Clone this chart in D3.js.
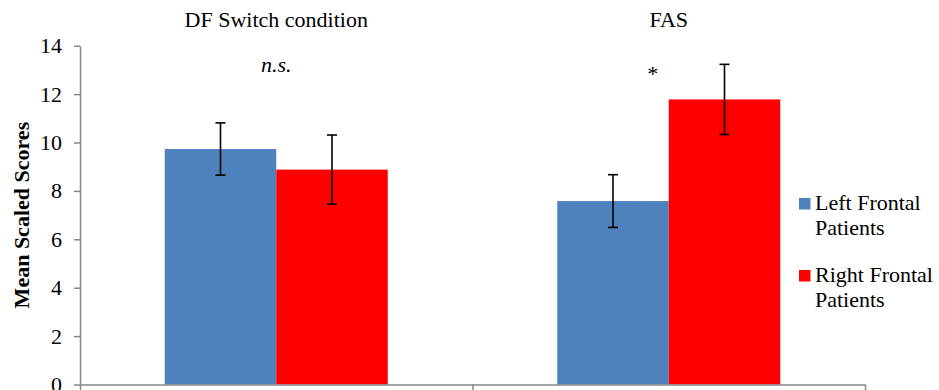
<!DOCTYPE html>
<html>
<head>
<meta charset="utf-8">
<script src="https://cdn.jsdelivr.net/npm/d3@7"></script>
<style>
  body { margin: 0; background: #fff; }
  svg { display: block; }
  svg text { font-family: "Liberation Serif", "Times New Roman", serif; }
</style>
</head>
<body>
<svg id="chart"></svg>
<script>
const svgWidth = 939;
const svgHeight = 390;

// chart values
const categories = ["DF Switch condition", "FAS"];
const seriesNames = ["Left Frontal Patients", "Right Frontal Patients"];
const leftMeans = [9.73, 7.58];
const rightMeans = [8.88, 11.78];
const leftErrors = [1.08, 1.09];
const rightErrors = [1.43, 1.45];
const sigLabels = ["n.s.", "*"];
const yTicks = [0, 2, 4, 6, 8, 10, 12, 14];
const colors = ["#4F81BD", "#FF0000"];

const plot = { left: 80, right: 865, top: 45.7, bottom: 384.5 };
const fontSize = 22;

let svg = d3.select("#chart")
  .attr("width", svgWidth)
  .attr("height", svgHeight);

let y = d3.scaleLinear().domain([0, 14]).range([plot.bottom, plot.top]);
let x0 = d3.scaleBand().domain(categories).range([plot.left, plot.right]);
let x1 = d3.scaleBand().domain(seriesNames).range([0, x0.bandwidth()]).paddingOuter(0.76);
let xEdge = d3.scaleLinear().domain([0, categories.length]).range([plot.left, plot.right]);

// rows: one per category / series
let rows = [];
categories.forEach((c, i) => {
  rows.push({ cat: c, series: seriesNames[0], value: leftMeans[i], err: leftErrors[i], color: colors[0] });
  rows.push({ cat: c, series: seriesNames[1], value: rightMeans[i], err: rightErrors[i], color: colors[1] });
});

// bars
svg.append("g").selectAll("rect")
  .data(rows)
  .join("rect")
  .attr("x", d => x0(d.cat) + x1(d.series))
  .attr("y", d => y(d.value))
  .attr("width", x1.bandwidth())
  .attr("height", d => y(0) - y(d.value))
  .attr("fill", d => d.color);

// error bars
let eb = svg.append("g").attr("stroke", "#000").attr("stroke-width", 1.6);
rows.forEach(d => {
  let cx = x0(d.cat) + x1(d.series) + x1.bandwidth() / 2;
  eb.append("line").attr("x1", cx).attr("x2", cx)
    .attr("y1", y(d.value + d.err)).attr("y2", y(d.value - d.err));
  [d.value + d.err, d.value - d.err].forEach(v => {
    eb.append("line").attr("x1", cx - 5).attr("x2", cx + 5)
      .attr("y1", y(v)).attr("y2", y(v));
  });
});

// y axis
let yAxis = svg.append("g")
  .attr("transform", "translate(" + plot.left + ",0)")
  .call(d3.axisLeft(y).tickValues(yTicks).tickSize(6).tickSizeOuter(0).tickPadding(12));
yAxis.attr("font-family", null).attr("font-size", null);
yAxis.selectAll("path, line").attr("stroke", "#868686").attr("stroke-width", 1.5);
yAxis.selectAll("text")
  .attr("font-size", fontSize)
  .attr("fill", "#000");

// x axis
let xAxis = svg.append("g")
  .attr("transform", "translate(0," + plot.bottom + ")")
  .call(d3.axisBottom(xEdge).tickValues(d3.range(categories.length + 1)).tickFormat("").tickSize(6).tickSizeOuter(0));
xAxis.selectAll("path, line").attr("stroke", "#868686").attr("stroke-width", 1.5);

// y axis title
svg.append("text")
  .attr("transform", "translate(28.5," + (plot.top + plot.bottom) / 2 + ") rotate(-90)")
  .attr("text-anchor", "middle")
  .attr("font-size", fontSize)
  .attr("font-weight", "bold")
  .text("Mean Scaled Scores");

// category titles
svg.append("g").selectAll("text")
  .data(categories)
  .join("text")
  .attr("x", d => x0(d) + x0.bandwidth() / 2)
  .attr("y", 27)
  .attr("text-anchor", "middle")
  .attr("font-size", fontSize)
  .text(d => d);

// significance labels
svg.append("text")
  .attr("x", x0(categories[0]) + x0.bandwidth() / 2)
  .attr("y", 72)
  .attr("text-anchor", "middle")
  .attr("font-size", fontSize)
  .attr("font-style", "italic")
  .text(sigLabels[0]);
svg.append("text")
  .attr("x", x0(categories[1]) + x0.bandwidth() / 2 - 16)
  .attr("y", 81)
  .attr("text-anchor", "middle")
  .attr("font-size", fontSize)
  .text(sigLabels[1]);

// legend
let legend = svg.append("g").attr("transform", "translate(799,198)");
seriesNames.forEach((s, i) => {
  let g = legend.append("g").attr("transform", "translate(0," + i * 72 + ")");
  g.append("rect").attr("width", 11.5).attr("height", 11.5).attr("fill", colors[i]);
  let words = s.split(" ");
  let t = g.append("text").attr("x", 16).attr("y", 12).attr("font-size", fontSize);
  t.append("tspan").attr("x", 16).text(words.slice(0, 2).join(" "));
  t.append("tspan").attr("x", 16).attr("dy", 25).text(words.slice(2).join(" "));
});
</script>
</body>
</html>
